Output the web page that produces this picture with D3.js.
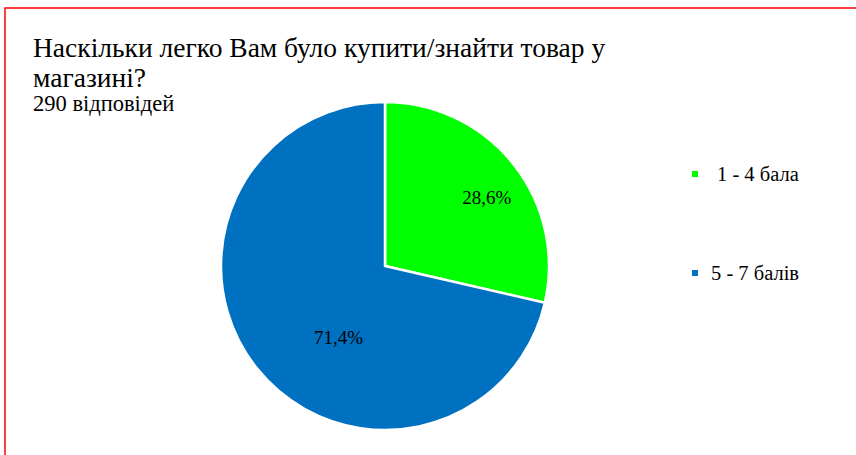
<!DOCTYPE html>
<html>
<head>
<meta charset="utf-8">
<script src="https://cdn.jsdelivr.net/npm/d3@7"></script>
<style>
  html, body { margin: 0; padding: 0; background: #fff; }
  svg { display: block; }
</style>
</head>
<body>
<svg id="chart" width="856" height="455"></svg>
<script>
// Survey answers: how easy it was to buy/find the product
const categories = ["1 - 4 бала", "5 - 7 балів"];
const shares = [28.6, 71.4];
const labels = ["28,6%", "71,4%"];
const colors = ["#00FF00", "#0070C0"];
const titleLines = ["Наскільки легко Вам було купити/знайти товар у", "магазині?"];
const subtitle = "290 відповідей";

const FONT = "'Liberation Serif', 'Times New Roman', 'Liberation Sans', Arial, sans-serif";
const svg = d3.select("#chart");
const W = 856, H = 455;

// Frame
svg.append("path")
  .attr("d", `M5,${H} L5,8 L${W},8`)
  .attr("fill", "none")
  .attr("stroke", "#FF0000")
  .attr("stroke-width", 1.5);

// Title and subtitle
svg.append("g").selectAll("text")
  .data(titleLines)
  .join("text")
  .attr("x", 33)
  .attr("y", (d, i) => 57 + i * 30)
  .attr("font-family", FONT)
  .attr("font-size", 27.5)
  .text(d => d);

svg.append("text")
  .attr("x", 33)
  .attr("y", 111)
  .attr("font-family", FONT)
  .attr("font-size", 22.5)
  .text(subtitle);

// Pie
const cx = 385, cy = 266, r = 164;
const data = categories.map((c, i) => ({ cat: c, value: shares[i], label: labels[i], color: colors[i] }));
const pie = d3.pie().sort(null).value(d => d.value);
const arc = d3.arc().innerRadius(0).outerRadius(r);

const g = svg.append("g").attr("transform", `translate(${cx},${cy})`);
const arcs = pie(data);

g.selectAll("path")
  .data(arcs)
  .join("path")
  .attr("d", arc)
  .attr("fill", d => d.data.color)
  .attr("stroke", "#fff")
  .attr("stroke-width", 2.5)
  .attr("stroke-linejoin", "round");

// Data labels: radius fraction and angular nudge per slice
const labelPlacement = [{ rf: 0.75, da: 4.4 }, { rf: 0.52, da: -18.5 }];
function labelPos(d, i) {
  const p = labelPlacement[i];
  const a = (d.startAngle + d.endAngle) / 2 + p.da * Math.PI / 180;
  const rr = r * p.rf;
  return [rr * Math.sin(a), -rr * Math.cos(a)];
}

g.selectAll("text.lbl")
  .data(arcs)
  .join("text")
  .attr("class", "lbl")
  .attr("transform", (d, i) => `translate(${labelPos(d, i)})`)
  .attr("text-anchor", "middle")
  .attr("dy", "0.35em")
  .attr("font-family", FONT)
  .attr("font-size", 19)
  .text(d => d.data.label);

// Legend
const legendY = d3.scalePoint().domain(categories).range([174, 273]);
const lg = svg.append("g").selectAll("g")
  .data(data)
  .join("g")
  .attr("transform", d => `translate(692,${legendY(d.cat)})`);

lg.append("rect")
  .attr("x", 0).attr("y", -3)
  .attr("width", 6).attr("height", 6)
  .attr("fill", d => d.color);

lg.append("text")
  .attr("x", (d, i) => i === 0 ? 25 : 19)
  .attr("y", 0)
  .attr("dy", "0.33em")
  .attr("font-family", FONT)
  .attr("font-size", 20.5)
  .text(d => d.cat);
</script>
</body>
</html>
